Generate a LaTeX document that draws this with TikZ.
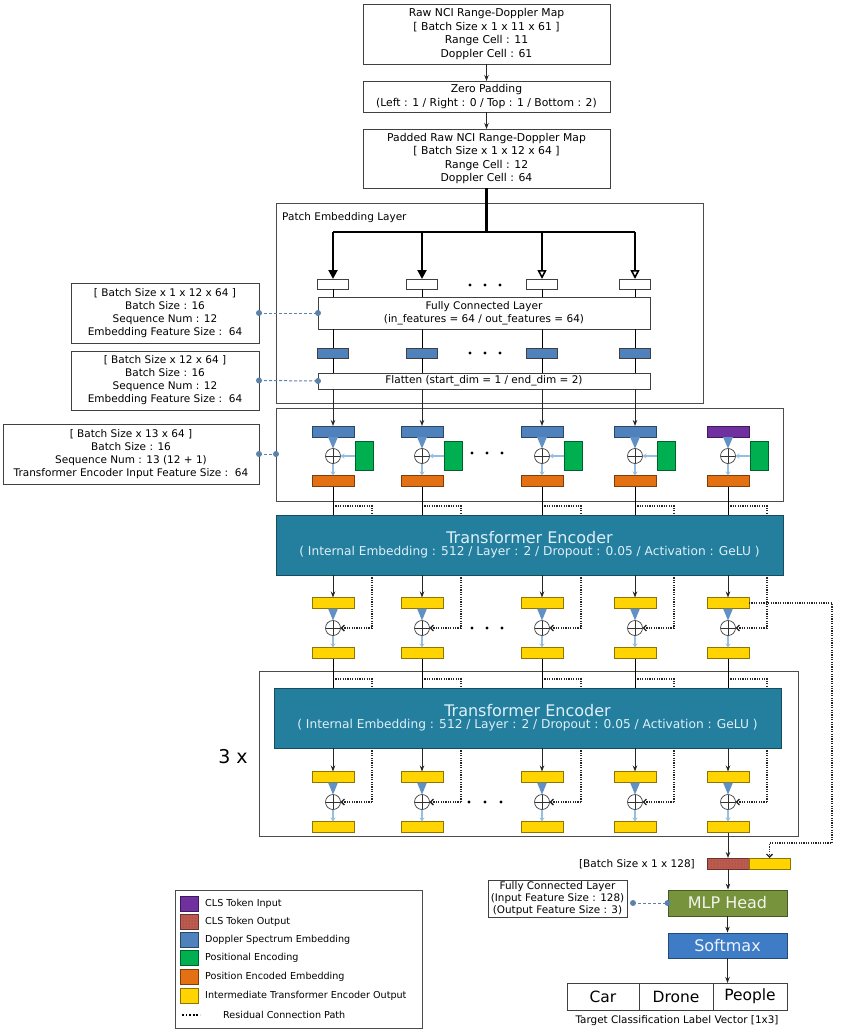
\documentclass[tikz,border=0pt]{standalone}
\usepackage{fontspec}
\setmainfont{DejaVu Sans}
\usetikzlibrary{arrows.meta,patterns,backgrounds}
\definecolor{teal1}{RGB}{36,126,158}
\definecolor{enctext}{RGB}{222,240,248}
\definecolor{dsblue}{RGB}{79,129,189}
\definecolor{peorange}{RGB}{228,112,20}
\definecolor{posgreen}{RGB}{0,176,80}
\definecolor{clspurple}{RGB}{112,48,160}
\definecolor{clsout}{RGB}{190,92,72}
\definecolor{ityellow}{RGB}{255,212,0}
\definecolor{mlpgreen}{RGB}{119,147,60}
\definecolor{smblue}{RGB}{62,124,198}
\definecolor{lblue}{RGB}{150,190,225}
\definecolor{dashblue}{RGB}{90,130,170}
\newcommand\fsm{\fontsize{10.5}{13}\selectfont}
\newcommand\ftop{\fontsize{10.8}{13.4}\selectfont}
\begin{document}
\begin{tikzpicture}[x=1pt,y=-1pt,
  box/.style={draw=black!75, line width=0.9pt, fill=white, align=center, inner sep=0pt, outer sep=0pt, font=\fsm},
  fbox/.style={draw=black!70, line width=0.9pt, inner sep=0pt, outer sep=0pt, anchor=north west},
  tok/.style={draw=#1!55!black, fill=#1, line width=0.6pt, minimum width=42, minimum height=11, inner sep=0pt, outer sep=0pt},
  ptok/.style={draw=black!75, fill=#1, line width=0.6pt, minimum width=31, minimum height=10, inner sep=0pt, outer sep=0pt},
  gtok/.style={draw=posgreen!55!black, fill=posgreen, line width=0.6pt, minimum width=18, minimum height=29, inner sep=0pt, outer sep=0pt},
  plusc/.style={circle, draw=black!75, fill=white, line width=0.7pt, minimum size=15, inner sep=0pt, outer sep=0pt,
    path picture={\draw[line width=0.7pt,black!80] (path picture bounding box.north) -- (path picture bounding box.south)
      (path picture bounding box.west) -- (path picture bounding box.east);}},
  enc/.style={draw=teal1!60!black, fill=teal1, line width=0.8pt, minimum width=507, minimum height=60, align=center, text=enctext, inner sep=0pt, outer sep=0pt},
  arr/.style={-{Stealth[length=6pt,width=4.5pt]}, line width=0.9pt, draw=black!85},
  res/.style={dash pattern=on 1.2pt off 1.2pt, line width=1.3pt, draw=black!85},
  resarr/.style={res, -{Straight Barb[length=3pt,width=6pt]}},
  lb/.style={draw=lblue, line width=1.3pt, -{Stealth[length=4pt,width=5pt]}},
  taper/.style={fill=dsblue!75!lblue},
  conn/.style={draw=dashblue, line width=1pt, dash pattern=on 3pt off 2pt},
  cdot/.style={circle, fill=dashblue, minimum size=6, inner sep=0pt, outer sep=0pt},
  thickarr/.style={line width=2pt, -{Triangle[length=9pt,width=9pt]}},
  openarr/.style={line width=1.6pt, -{Triangle[open,length=9pt,width=9pt,fill=white]}},
  legtxt/.style={anchor=west, font=\fontsize{9.6}{11}\selectfont, inner sep=0pt},
]
\useasboundingbox (0,0) rectangle (846,1032);

% ---------- frames ----------
\node[fbox, minimum width=427, minimum height=200] (peb) at (276,203) {};
\node[anchor=west, font=\fsm, inner sep=0pt] (pebl) at (282,218) {Patch Embedding Layer};
\node[fbox, minimum width=507, minimum height=93] (pe) at (276,408) {};
\node[fbox, minimum width=539, minimum height=165] (rep) at (259,671) {};

% ---------- top chain ----------
\node[box, font=\ftop, minimum width=247, minimum height=60] (raw) at (486.5,34)
  {Raw NCI Range-Doppler Map\\{[} Batch Size x 1 x 11 x 61 ]\\Range Cell : 11\\Doppler Cell : 61};
\node[box, font=\ftop, minimum width=247, minimum height=31] (zp) at (486.5,96.5)
  {Zero Padding\\(Left : 1 / Right : 0 / Top : 1 / Bottom : 2)};
\node[box, font=\ftop, minimum width=247, minimum height=59] (pad) at (486.5,158.5)
  {Padded Raw NCI Range-Doppler Map\\{[} Batch Size x 1 x 12 x 64 ]\\Range Cell : 12\\Doppler Cell : 64};
\draw[arr] (raw) -- (zp);
\draw[arr] (zp) -- (pad);
\coordinate (split) at (486.5,232);
\draw[line width=2.5pt] (pad.south) -- (split);

% ---------- patch embedding ----------
\node[box, minimum width=332, minimum height=32] (fc) at (484,313)
  {Fully Connected Layer\\(in\_features = 64 / out\_features = 64)};
\node[box, minimum width=332, minimum height=16] (fl) at (484,381)
  {Flatten (start\_dim = 1 / end\_dim = 2)};
\foreach \i/\c in {1/333,2/422,3/542,4/635}{
  \node[ptok=white] (w\i) at (\c,284) {};
  \node[ptok=dsblue] (d\i) at (\c,353) {};
  \coordinate (h\i) at (\c,232);
}
\draw[line width=2.5pt] (h1) -- (h4);
\draw[thickarr] (h1) -- (w1.north);
\draw[thickarr] (h2) -- (w2.north);
\draw[openarr] (h3) -- (w3.north);
\draw[openarr] (h4) -- (w4.north);
\foreach \x in {470,485,500}{\fill (\x,285) circle (1.7); \fill (\x,353) circle (1.7);}

% ---------- positional encoding ----------
\foreach \i/\c/\col in {1/333/dsblue,2/422/dsblue,3/542/dsblue,4/635/dsblue,5/728/clspurple}{
  \node[tok=\col] (B\i) at (\c,431.5) {};
  \node[plusc] (P\i) at (\c,456) {};
  \node[gtok] (G\i) at (\c+31,456) {};
  \node[tok=peorange] (O\i) at (\c,481) {};
  \fill[taper] ([xshift=-5pt]B\i.south) -- ([xshift=5pt]B\i.south) -- (P\i.north) -- cycle;
  \draw[lb] (P\i.south) -- (O\i.north);
  \draw[lb] (G\i.west) -- (P\i.east);
}
\foreach \x in {472,487,502}{\fill (\x,453) circle (1.7);}
\foreach \i in {1,2,3,4}{
  \draw (w\i.south) -- (w\i.south |- fc.north);
  \draw (w\i.south |- fc.south) -- (d\i.north);
  \draw (d\i.south) -- (d\i.south |- fl.north);
  \draw[arr] (d\i.south |- fl.south) -- (B\i.north);
}

% ---------- encoder 1 ----------
\node[enc] (E1) at (529.5,545)
  {{\fontsize{16}{19}\selectfont Transformer Encoder}\\[0pt]
   {\fontsize{12.2}{14}\selectfont ( Internal Embedding : 512 / Layer : 2 / Dropout : 0.05 / Activation : GeLU )}};
\foreach \i/\c in {1/333,2/422,3/542,4/635,5/728}{
  \draw (O\i.south) -- (O\i.south |- E1.north);
  \node[tok=ityellow] (Y\i) at (\c,603) {};
  \node[plusc] (Q\i) at (\c,628) {};
  \node[tok=ityellow] (Z\i) at (\c,653) {};
  \draw[arr] (Y\i.north |- E1.south) -- (Y\i.north);
  \fill[taper] ([xshift=-5pt]Y\i.south) -- ([xshift=5pt]Y\i.south) -- (Q\i.north) -- cycle;
  \draw[lb] (Q\i.south) -- (Z\i.north);
  \coordinate (ra\i) at (\c,506);
  \coordinate (rb\i) at (\c+39,506);
  \coordinate (rc\i) at (\c+39,628);
}
\begin{scope}[on background layer]
\foreach \i in {1,...,5}{\draw[res] (ra\i) -- (rb\i) -- (rc\i);}
\end{scope}
\foreach \i in {1,...,5}{\draw[resarr] (rc\i) -- (Q\i.east);}
\foreach \x in {472,487,502}{\fill (\x,628) circle (1.7);}

% ---------- encoder 2 (repeated) ----------
\node[enc] (E2) at (527.5,718)
  {{\fontsize{16}{19}\selectfont Transformer Encoder}\\[0pt]
   {\fontsize{12.2}{14}\selectfont ( Internal Embedding : 512 / Layer : 2 / Dropout : 0.05 / Activation : GeLU )}};
\node[font=\fontsize{19}{21}\selectfont, inner sep=0pt] (rep3) at (233,757) {3 x};
\foreach \i/\c in {1/333,2/422,3/542,4/635,5/728}{
  \draw (Z\i.south) -- (Z\i.south |- E2.north);
  \node[tok=ityellow] (U\i) at (\c,777) {};
  \node[plusc] (R\i) at (\c,802) {};
  \node[tok=ityellow] (V\i) at (\c,827) {};
  \draw[arr] (U\i.north |- E2.south) -- (U\i.north);
  \fill[taper] ([xshift=-5pt]U\i.south) -- ([xshift=5pt]U\i.south) -- (R\i.north) -- cycle;
  \draw[lb] (R\i.south) -- (V\i.north);
  \coordinate (sa\i) at (\c,679);
  \coordinate (sb\i) at (\c+39,679);
  \coordinate (sc\i) at (\c+39,802);
}
\begin{scope}[on background layer]
\foreach \i in {1,...,5}{\draw[res] (sa\i) -- (sb\i) -- (sc\i);}
\end{scope}
\foreach \i in {1,...,5}{\draw[resarr] (sc\i) -- (R\i.east);}
\foreach \x in {469,485,501}{\fill (\x,802) circle (1.7);}

% ---------- head ----------
\node[tok=clsout, minimum width=42, postaction={pattern=dots, pattern color=clspurple}] (co) at (728,863.5) {};
\node[tok=ityellow, minimum width=41] (cy) at (769.5,863.5) {};
\node[anchor=east, font=\fsm, inner sep=0pt] (lab) at (695,864) {{[}Batch Size x 1 x 128]};
\draw[arr] (V5.south) -- (co.north);
\coordinate (k1) at (832,603);
\coordinate (k2) at (832,843);
\coordinate (k3) at (769.5,843);
\draw[res, -{Straight Barb[length=3pt,width=6pt]}] (Y5.east) -- (k1) -- (k2) -- (k3) -- (cy.north);

\node[draw=mlpgreen!60!black, fill=mlpgreen, line width=0.8pt, minimum width=119, minimum height=26, inner sep=0pt,
  text=white!90!mlpgreen, font=\fontsize{16}{18}\selectfont] (mlp) at (727.5,903) {MLP Head};
\node[draw=smblue!60!black, fill=smblue, line width=0.8pt, minimum width=119, minimum height=25, inner sep=0pt,
  text=white!90!smblue, font=\fontsize{16}{18}\selectfont] (sm) at (727.5,945.5) {Softmax};
\draw[arr] (co.south) -- (co.south |- mlp.north);
\draw[arr] (mlp) -- (sm);

\node[box, font=\fontsize{15.5}{18}\selectfont, minimum width=72, minimum height=27] (car) at (603,996.5) {Car};
\node[box, font=\fontsize{15.5}{18}\selectfont, minimum width=74, minimum height=27] (drone) at (676,996.5) {Drone};
\node[box, font=\fontsize{15.5}{18}\selectfont, minimum width=74, minimum height=27] (people) at (750,996.5) {People};
\draw[arr] (sm.south) -- (sm.south |- people.north);
\node[font=\fontsize{10.4}{12}\selectfont, inner sep=0pt] (capt) at (677,1021) {Target Classification Label Vector [1x3]};

\node[box, font=\fontsize{10.4}{12}\selectfont, minimum width=139, minimum height=37] (fcinfo) at (557.5,898.5)
  {Fully Connected Layer\\(Input Feature Size : 128)\\(Output Feature Size : 3)};
\coordinate (fcd) at (633,903);
\draw[conn] (fcd) -- (mlp.west);
\node[cdot] at (fcd) {};
\node[cdot] at (mlp.west) {};

% ---------- left info boxes ----------
\node[box, minimum width=188, minimum height=60] (infoA) at (165,313)
  {{[} Batch Size x 1 x 12 x 64 ]\\Batch Size : 16\\Sequence Num : 12\\Embedding Feature Size :~~64};
\node[box, minimum width=188, minimum height=59] (infoB) at (165,380.5)
  {{[} Batch Size x 12 x 64 ]\\Batch Size : 16\\Sequence Num : 12\\Embedding Feature Size :~~64};
\node[box, minimum width=256, minimum height=60] (infoC) at (131,454)
  {{[} Batch Size x 13 x 64 ]\\Batch Size : 16\\Sequence Num : 13 (12 + 1)\\Transformer Encoder Input Feature Size :~~64};
\draw[conn] (infoA.east) -- (fc.west);
\node[cdot] at (infoA.east) {}; \node[cdot] at (fc.west) {};
\draw[conn] (infoB.east) -- (fl.west);
\node[cdot] at (infoB.east) {}; \node[cdot] at (fl.west) {};
\draw[conn] (infoC.east) -- (infoC.east -| pe.west);
\node[cdot] at (infoC.east) {}; \node[cdot] at (infoC.east -| pe.west) {};

% ---------- legend ----------
\node[fbox, fill=white, minimum width=247, minimum height=138] (leg) at (175,890) {};
\node[tok=clspurple, minimum width=18, minimum height=15] (s1) at (189,904) {};
\node[tok=clsout, minimum width=18, minimum height=15, postaction={pattern=dots, pattern color=clspurple}] (s2) at (189,922) {};
\node[tok=dsblue, minimum width=18, minimum height=15] (s3) at (189,940) {};
\node[tok=posgreen, minimum width=18, minimum height=15] (s4) at (189,958) {};
\node[tok=peorange, minimum width=18, minimum height=15] (s5) at (189,977) {};
\node[tok=ityellow, minimum width=18, minimum height=15] (s6) at (189,996) {};
\node[legtxt] (t1) at (205,904) {CLS Token Input};
\node[legtxt] (t2) at (205,922) {CLS Token Output};
\node[legtxt] (t3) at (205,940) {Doppler Spectrum Embedding};
\node[legtxt] (t4) at (205,958) {Positional Encoding};
\node[legtxt] (t5) at (205,977) {Position Encoded Embedding};
\node[legtxt] (t6) at (205,996) {Intermediate Transformer Encoder Output};
\coordinate (rl1) at (182,1015);
\coordinate (rl2) at (200,1015);
\draw[line width=1.8pt, dash pattern=on 1.8pt off 1.8pt] (rl1) -- (rl2);
\node[legtxt] (t7) at (223,1015) {Residual Connection Path};
\end{tikzpicture}
\end{document}
